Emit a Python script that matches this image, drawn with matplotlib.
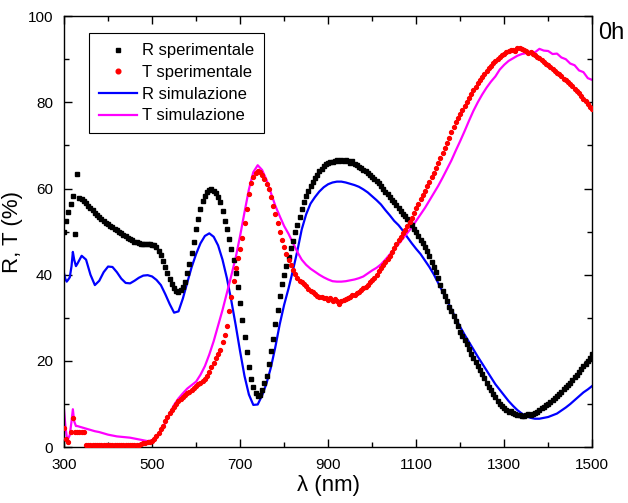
import numpy as np
import matplotlib
matplotlib.use("Agg")
import matplotlib.pyplot as plt
from matplotlib.ticker import MultipleLocator

plt.rcParams['font.family'] = ['Liberation Sans', 'DejaVu Sans']

# lunghezze d'onda misurate (passo 5 nm)
wl_exp = np.arange(300, 1501, 5)

R_exp = [
    50.0, 52.5, 54.5, 56.5, 58.2, 49.4, 63.3, 57.8, 57.6, 57.2,
    56.6, 56.0, 55.5, 55.0, 54.4, 53.9, 53.4, 53.0, 52.5, 52.1,
    51.7, 51.4, 51.0, 50.6, 50.3, 50.0, 49.6, 49.2, 48.9, 48.6,
    48.3, 48.0, 47.7, 47.5, 47.3, 47.2, 47.1, 47.1, 47.1, 47.1,
    47.0, 46.8, 46.4, 45.6, 44.6, 43.2, 41.8, 40.3, 39.0, 37.9,
    37.0, 36.3, 36.1, 36.4, 37.2, 38.4, 40.3, 42.5, 45.0, 47.6,
    50.5, 53.0, 55.2, 57.0, 58.3, 59.2, 59.7, 59.8, 59.5, 58.9,
    58.0, 56.8, 54.8, 52.5, 50.6, 48.3, 46.0, 43.4, 40.3, 37.2,
    33.5, 29.5, 25.6, 22.0, 18.6, 15.9, 14.0, 12.5, 11.9, 12.1,
    13.3, 14.8, 16.5, 19.4, 22.3, 25.2, 28.5, 31.8, 35.0, 37.8,
    40.0, 42.1, 44.2, 46.1, 47.9, 49.8, 51.5, 53.3, 55.2, 56.8,
    58.2, 59.4, 60.6, 61.6, 62.4, 63.2, 64.0, 64.6, 65.2, 65.6,
    66.0, 66.2, 66.1, 66.5, 66.6, 66.4, 66.6, 66.3, 66.7, 66.4,
    66.0, 66.4, 65.8, 65.5, 65.1, 64.7, 64.3, 64.0, 63.6, 63.1,
    62.6, 62.1, 61.7, 61.2, 60.6, 60.0, 59.3, 58.7, 58.1, 57.4,
    56.8, 56.2, 55.5, 54.8, 54.2, 53.6, 52.9, 52.2, 51.5, 50.6,
    49.8, 48.9, 48.0, 47.3, 46.4, 45.5, 44.3, 43.0, 41.8, 40.7,
    39.2, 37.6, 36.3, 35.0, 33.8, 32.6, 31.5, 30.5, 29.3, 28.0,
    26.7, 25.7, 24.8, 23.9, 22.8, 21.6, 20.8, 19.8, 18.8, 17.8,
    16.9, 16.0, 15.0, 14.0, 13.2, 12.4, 11.6, 10.8, 10.1, 9.5,
    9.0, 8.6, 8.2, 8.4, 7.9, 7.7, 7.5, 7.4, 7.2, 7.3,
    7.4, 7.6, 7.5, 7.8, 8.0, 8.2, 8.6, 9.0, 9.3, 9.8,
    10.0, 10.4, 10.9, 11.4, 11.8, 12.3, 12.8, 13.4, 13.9, 14.5,
    15.0, 15.6, 16.2, 16.8, 17.5, 18.1, 18.8, 19.4, 20.1, 20.8,
    21.5,
]

T_exp = [
    4.4, 1.9, 1.2, 3.5, 6.7, 3.5, 3.5, 3.5, 3.5, 3.5,
    0.4, 0.4, 0.4, 0.4, 0.4, 0.4, 0.4, 0.4, 0.4, 0.4,
    0.4, 0.4, 0.4, 0.4, 0.4, 0.4, 0.4, 0.4, 0.4, 0.4,
    0.4, 0.5, 0.5, 0.6, 0.6, 0.7, 0.9, 1.0, 1.1, 1.3,
    1.5, 2.0, 2.6, 3.3, 4.1, 5.0, 6.0, 7.0, 7.9, 8.7,
    9.4, 10.0, 10.6, 11.1, 11.6, 12.1, 12.5, 12.9, 13.3, 13.7,
    14.2, 14.6, 15.0, 15.4, 15.9, 16.4, 17.4, 18.5, 19.5, 20.6,
    21.5, 22.5, 24.3, 26.0, 28.2, 31.5, 34.8, 38.5, 41.5, 43.8,
    46.0, 48.6, 52.0, 55.3, 58.8, 61.2, 62.7, 63.6, 64.0, 63.8,
    63.2, 62.2, 61.0, 59.8, 58.1, 56.0, 54.0, 52.0, 49.8, 48.0,
    46.4, 44.9, 43.5, 42.2, 41.0, 40.1, 39.2, 38.6, 38.2, 37.9,
    37.3, 36.6, 36.3, 36.0, 35.6, 35.1, 34.8, 34.9, 34.5, 34.6,
    34.2, 34.5, 34.0, 34.3, 33.8, 33.3, 34.0, 34.1, 34.3, 34.7,
    34.8, 35.3, 35.4, 35.8, 36.1, 36.5, 36.9, 37.2, 37.7, 38.2,
    38.7, 39.3, 40.0, 40.8, 41.5, 42.3, 43.0, 43.6, 44.4, 45.3,
    46.2, 47.1, 48.0, 48.8, 49.6, 50.4, 51.3, 52.2, 53.2, 54.3,
    55.4, 56.5, 57.6, 58.5, 59.5, 60.5, 61.5, 62.6, 63.7, 64.8,
    66.0, 67.1, 68.2, 69.4, 70.6, 71.8, 73.0, 74.2, 75.4, 76.3,
    77.3, 78.2, 79.2, 80.1, 81.0, 81.9, 82.8, 83.6, 84.4, 85.1,
    85.8, 86.5, 87.2, 87.9, 88.5, 89.1, 89.6, 90.1, 90.5, 91.0,
    91.3, 91.6, 91.8, 92.1, 92.2, 92.0, 92.5, 92.7, 92.4, 92.1,
    92.0, 91.5, 91.6, 91.2, 90.9, 90.4, 90.2, 89.7, 89.4, 89.0,
    88.6, 88.2, 87.8, 87.3, 86.9, 86.5, 86.0, 85.5, 85.1, 84.7,
    84.2, 83.7, 83.2, 82.6, 82.1, 81.4, 80.8, 80.2, 79.6, 79.0,
    78.4,
]

# simulazione: punti fitti all'inizio, poi passo 10 nm
wl_sim = [300, 303, 306, 309, 313, 317, 320, 323, 327, 330] + list(range(340, 1501, 10))

R_sim = [
    40.3, 39.0, 38.4, 38.8, 39.4, 42.0, 45.3, 43.5, 42.0, 42.5,
    44.4, 43.5, 40.0, 37.6, 38.6, 40.6, 41.9, 41.8, 40.6, 39.1,
    38.1, 38.0, 38.6, 39.3, 39.8, 39.9, 39.6, 38.8, 37.6, 35.5,
    33.2, 31.2, 31.5, 34.5, 38.2, 41.8, 44.8, 47.3, 49.0, 49.6,
    48.8, 46.8, 43.5, 39.2, 34.0, 28.3, 22.2, 16.5, 12.2, 9.8,
    9.9, 12.0, 14.8, 18.5, 23.2, 28.5, 33.0, 36.8, 41.0, 45.5,
    50.5, 54.0, 56.5, 58.0, 59.3, 60.3, 61.0, 61.4, 61.6, 61.6,
    61.4, 61.1, 60.8, 60.4, 59.8, 59.1, 58.2, 57.3, 56.3, 55.0,
    53.8, 52.5, 51.5, 50.2, 48.7, 47.3, 46.0, 44.8, 43.3, 41.8,
    40.1, 38.1, 36.1, 34.1, 32.0, 29.9, 27.9, 26.1, 24.4, 22.7,
    21.0, 19.4, 17.8, 16.2, 14.6, 13.3, 12.0, 10.7, 9.6, 8.6,
    7.8, 7.2, 6.8, 6.6, 6.6, 6.8, 7.0, 7.4, 7.8, 8.5,
    9.2, 10.0, 10.9, 11.8, 12.7, 13.4, 14.2,
]

T_sim = [
    8.6, 5.0, 2.5, 1.9, 2.8, 6.0, 8.8, 6.0, 4.9, 4.9,
    4.6, 4.3, 4.0, 3.7, 3.5, 3.2, 2.9, 2.7, 2.5, 2.4,
    2.3, 2.2, 2.0, 1.8, 1.6, 1.4, 1.6, 2.4, 3.8, 5.6,
    7.7, 9.8, 11.3, 12.5, 13.6, 14.4, 15.2, 16.8, 18.8, 21.5,
    24.6, 28.2, 31.8, 35.8, 39.8, 44.0, 49.0, 54.5, 59.8, 63.8,
    65.4, 64.3, 62.0, 59.0, 56.0, 53.6, 51.3, 49.5, 47.4, 45.3,
    43.5, 42.3, 41.4, 40.7, 40.0, 39.4, 38.9, 38.5, 38.4, 38.4,
    38.5, 38.7, 38.9, 39.2, 39.6, 40.3, 41.0, 41.6, 42.4, 43.5,
    44.7, 45.9, 47.1, 48.4, 49.7, 51.0, 52.5, 54.0, 55.5, 57.2,
    58.9, 60.6, 62.5, 64.5, 66.5, 68.8, 71.0, 73.3, 75.7, 78.0,
    80.0, 81.8, 83.4, 84.8, 86.0, 87.6, 88.7, 89.6, 90.2, 90.8,
    91.2, 91.4, 91.8, 91.6, 92.4, 92.0, 91.9, 91.2, 91.3, 90.4,
    90.0, 89.0, 88.6, 87.4, 87.0, 85.6, 85.2,
]

x_ticks = [300, 500, 700, 900, 1100, 1300, 1500]

fig = plt.figure(figsize=(6.28, 5.03), dpi=100)
ax = fig.add_axes([0.102, 0.111, 0.841, 0.857])

l_rsim, = ax.plot(wl_sim, R_sim, color='#0000ff', lw=1.6, label='R simulazione', zorder=2)
l_tsim, = ax.plot(wl_sim, T_sim, color='#ff00ff', lw=1.6, label='T simulazione', zorder=2)
p_rexp, = ax.plot(wl_exp, R_exp, 's', color='black', ms=2.6, ls='none', label='R sperimentale', zorder=3)
p_texp, = ax.plot(wl_exp, T_exp, 'o', color='#ff0000', ms=2.8, ls='none', label='T sperimentale', zorder=3)

ax.set_xlim(300, 1500)
ax.set_ylim(0, 100)
ax.set_xticks(x_ticks)
ax.xaxis.set_minor_locator(MultipleLocator(100))
ax.yaxis.set_major_locator(MultipleLocator(20))
ax.yaxis.set_minor_locator(MultipleLocator(10))
ax.tick_params(which='both', direction='in', top=True, right=True, labelsize=11, width=1)
ax.tick_params(which='major', length=6)
ax.tick_params(which='minor', length=3.5)
ax.tick_params(axis='x', which='major', pad=8)
ax.tick_params(axis='y', which='major', pad=8)
for s in ax.spines.values():
    s.set_linewidth(1.0)

ax.set_xlabel('λ (nm)', fontsize=16, labelpad=2)
ax.set_ylabel('R, T (%)', fontsize=16, labelpad=3)

leg = ax.legend(handles=[p_rexp, p_texp, l_rsim, l_tsim], loc='upper left',
                bbox_to_anchor=(0.047, 0.96), fontsize=12, numpoints=1,
                handlelength=2.3, handletextpad=0.3, labelspacing=0.4,
                borderpad=0.6, borderaxespad=0, fancybox=False, framealpha=1,
                edgecolor='black', markerscale=1.2)
leg.get_frame().set_linewidth(0.8)

fig.text(0.952, 0.935, '0h', fontsize=17, ha='left', va='center')

fig.savefig('out.png', dpi=100)
